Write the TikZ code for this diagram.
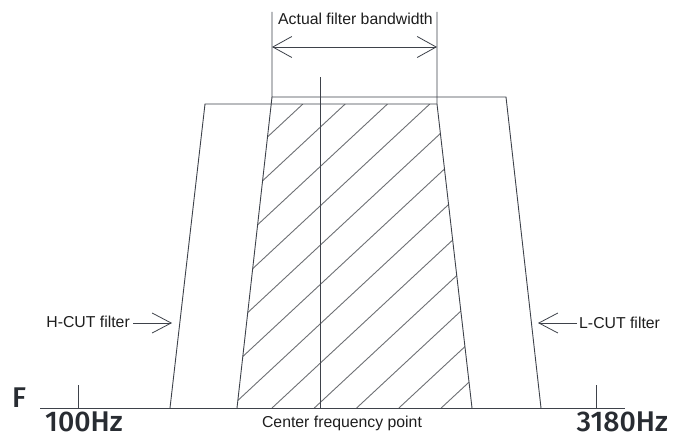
\documentclass[tikz,border=0pt]{standalone}
\usepackage{fontspec}
\setmainfont{Liberation Sans}
\newfontfamily\numfont{Fira Sans Medium}
\usetikzlibrary{arrows.meta}
\definecolor{linec}{RGB}{62,66,74}
\definecolor{hatchc}{RGB}{110,112,116}
\definecolor{textc}{RGB}{30,30,30}
\definecolor{numc}{RGB}{40,44,50}
\tikzset{
  edge/.style={draw=linec, line width=0.9pt},
  hatchline/.style={draw=hatchc, line width=0.9pt},
  barb/.style={draw=linec, line width=0.8pt, -{Straight Barb[length=19pt,width=20pt,line width=0.8pt]}},
  barbs/.style={draw=linec, line width=0.8pt, {Straight Barb[length=19pt,width=21pt,line width=0.8pt]}-{Straight Barb[length=19pt,width=21pt,line width=0.8pt]}},
  lbl/.style={inner sep=0pt, text=textc, font=\fontsize{15.8}{18}\selectfont},
  num/.style={inner sep=0pt, text=numc, font=\numfont\fontsize{28.5}{32}\selectfont}
}
\begin{document}
\begin{tikzpicture}[x=1pt,y=-1pt]
\useasboundingbox[fill=white] (0,0) rectangle (679,436);
% coordinates
\coordinate (axL) at (40,408);
\coordinate (axR) at (625,408);
\coordinate (oBL) at (170,408);
\coordinate (oTL) at (205,104);
\coordinate (iTR) at (437,104);
\coordinate (iBR) at (472,408);
\coordinate (iBL) at (237,408);
\coordinate (iTL) at (272,97);
\coordinate (oTR) at (506,97);
\coordinate (oBR) at (541,408);
\coordinate (dimL) at (272,12);
\coordinate (dimR) at (437,12);
\coordinate (arL) at (272,47);
\coordinate (arR) at (437,47);
\coordinate (cTop) at (320,77);
\coordinate (cBot) at (320,408);
\coordinate (t1a) at (78,385);
\coordinate (t1b) at (78,408);
\coordinate (t2a) at (596,385);
\coordinate (t2b) at (596,408);
\coordinate (hS) at (133,323);
\coordinate (hE) at (172,323);
\coordinate (lS) at (577,323);
\coordinate (lE) at (538,323);

% hatching
\begin{scope}
\clip (iBL) -- (271.2,104) -- (iTR) -- (iBR) -- cycle;
\foreach \i in {-7,...,4}
  \draw[hatchline] ({272+42.3*\i},408) -- ({272+42.3*\i+327},104);
\end{scope}

% axis and ticks
\draw[edge] (axL) -- (axR);
\draw[edge] (t1a) -- (t1b);
\draw[edge] (t2a) -- (t2b);

% outer/inner shapes
\draw[edge] (oBL) -- (oTL) -- (iTR);
\draw[edge] (dimL) -- (iTL) -- (oTR) -- (oBR);
\draw[edge] (iTL) -- (iBL);
\draw[edge] (dimR) -- (iTR) -- (iBR);
\draw[edge] (cTop) -- (cBot);

% dimension arrow
\draw[barbs] (arL) -- (arR);

% labels
\node[lbl, anchor=base west] (bw) at (278,25) {Actual filter bandwidth};
\node[lbl, anchor=base east] (hcut) at (130,327) {H-CUT filter};
\node[lbl, anchor=base west] (lcut) at (579,328) {L-CUT filter};
\node[lbl, anchor=base] (cfp) at (342,427) {Center frequency point};
\draw[barb] (hS) -- (hE);
\draw[barb] (lS) -- (lE);

\node[num, anchor=base west] (F) at (12,407) {F};
\node[num, anchor=base west] (f1) at (45,431) {100Hz};
\node[num, anchor=base east] (f2) at (668,431) {3180Hz};
\end{tikzpicture}
\end{document}
